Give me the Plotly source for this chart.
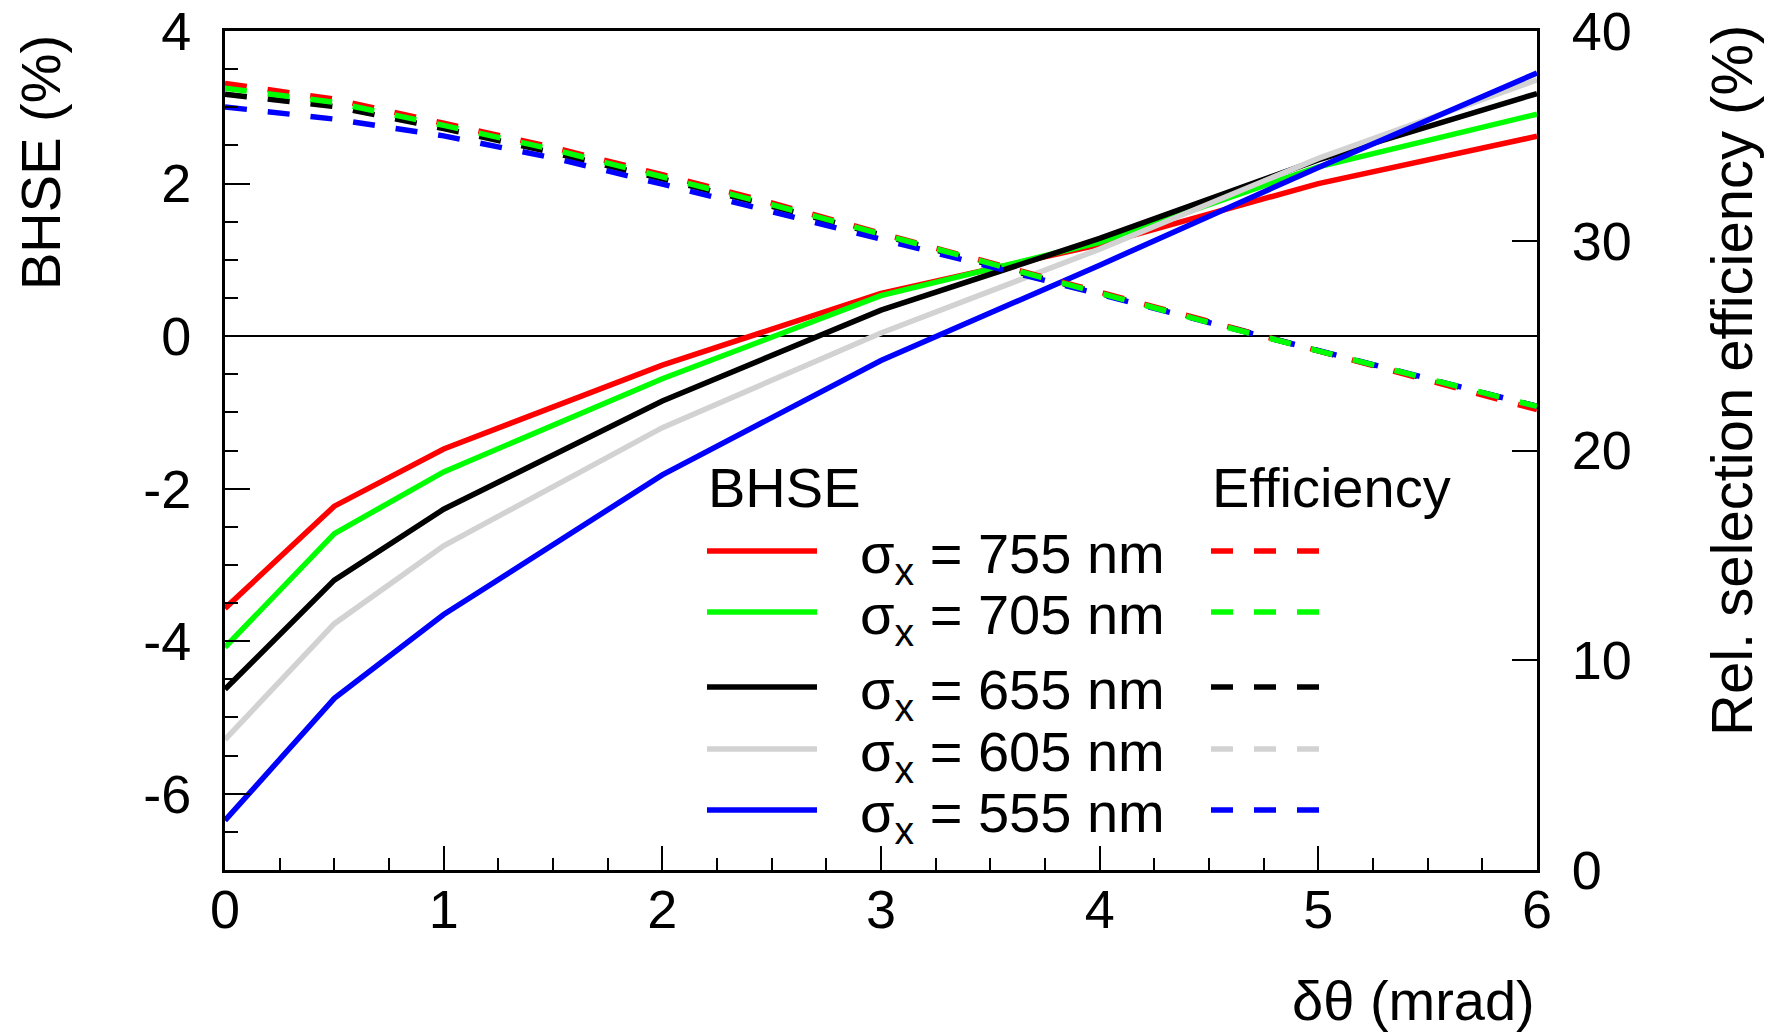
import plotly.graph_objects as go

# ---------------- data ----------------
sigma_labels = ["755", "705", "655", "605", "555"]
colors = ["#ff0000", "#00ff00", "#000000", "#d2d2d2", "#0000ff"]

x_bhse = [0, 0.5, 1, 2, 3, 4, 5, 6]
bhse_755 = [-3.57, -2.23, -1.48, -0.38, 0.56, 1.20, 2.00, 2.62]
bhse_705 = [-4.08, -2.59, -1.78, -0.56, 0.53, 1.23, 2.22, 2.91]
bhse_655 = [-4.63, -3.20, -2.27, -0.85, 0.34, 1.28, 2.31, 3.18]
bhse_605 = [-5.29, -3.77, -2.75, -1.20, 0.04, 1.14, 2.33, 3.36]
bhse_555 = [-6.35, -4.75, -3.65, -1.82, -0.32, 0.93, 2.21, 3.45]

x_eff = [0, 0.5, 1, 1.5, 2, 2.5, 3, 3.5, 4, 4.5, 5, 5.5, 6]
eff_755 = [37.50, 36.75, 35.60, 34.45, 33.15, 31.80, 30.35, 28.95, 27.50, 26.10, 24.70, 23.30, 21.95]
eff_705 = [37.27, 36.60, 35.50, 34.35, 33.05, 31.72, 30.32, 28.90, 27.50, 26.10, 24.75, 23.40, 22.10]
eff_655 = [36.98, 36.40, 35.35, 34.20, 32.95, 31.65, 30.28, 28.85, 27.50, 26.10, 24.75, 23.40, 22.10]
eff_605 = [36.98, 36.40, 35.35, 34.20, 32.95, 31.65, 30.28, 28.85, 27.50, 26.10, 24.75, 23.40, 22.10]
eff_555 = [36.38, 35.80, 35.00, 33.95, 32.70, 31.40, 30.10, 28.80, 27.45, 26.10, 24.75, 23.40, 22.10]

y_tickvals = [-6, -4, -2, 0, 2, 4]
y_ticktext = ["-6", "-4", "-2", "0", "2", "4"]

bhse_all = [bhse_755, bhse_705, bhse_655, bhse_605, bhse_555]
eff_all = [eff_755, eff_705, eff_655, eff_605, eff_555]

# ---------------- layout constants ----------------
W, H = 1776, 1032
L, R, T, B = 225, 1537, 31, 870
FONT = "Liberation Sans, Arial, Helvetica, sans-serif"
LW = 5.5
DASH = "22px,21px"

def px(xp):
    return (xp - L) / (R - L)

def py(yp):
    return (B - yp) / (B - T)

fig = go.Figure()

# BHSE solid lines (draw order: red, green, black, gray, blue)
for i in [0, 1, 2, 3, 4]:
    fig.add_trace(go.Scatter(x=x_bhse, y=bhse_all[i], mode="lines",
                             line=dict(color=colors[i], width=LW),
                             showlegend=False, yaxis="y", hoverinfo="skip"))

# Efficiency dashed lines on right axis
for i in [3, 2, 0, 4, 1]:
    fig.add_trace(go.Scatter(x=x_eff, y=eff_all[i], mode="lines",
                             line=dict(color=colors[i], width=LW, dash=DASH),
                             showlegend=False, yaxis="y2", hoverinfo="skip"))

tickfont = dict(family=FONT, size=54, color="black")

fig.update_layout(
    width=W, height=H,
    margin=dict(l=L, r=W - R, t=T, b=H - B, autoexpand=False),
    plot_bgcolor="white", paper_bgcolor="white",
    showlegend=False,
    xaxis=dict(range=[0, 6], dtick=1, tick0=0, showgrid=False, zeroline=False,
               automargin=False,
               showline=True, linecolor="black", linewidth=3, mirror=True,
               ticks="inside", ticklen=24, tickwidth=2, tickcolor="black",
               minor=dict(dtick=0.25, ticks="inside", ticklen=12, tickwidth=2,
                          tickcolor="black", showgrid=False),
               tickfont=tickfont, ticklabelstandoff=-10),
    yaxis=dict(range=[-7, 4], tickmode="array", tickvals=y_tickvals, ticktext=y_ticktext,
               showgrid=False, automargin=False,
               zeroline=True, zerolinecolor="black", zerolinewidth=1.6,
               showline=True, linecolor="black", linewidth=3, mirror=True,
               ticks="inside", ticklen=25, tickwidth=2, tickcolor="black",
               minor=dict(dtick=0.5, tick0=0, ticks="inside", ticklen=13, tickwidth=2,
                          tickcolor="black", showgrid=False),
               tickfont=tickfont, ticklabelstandoff=20),
    yaxis2=dict(range=[0, 40], dtick=10, tick0=0, overlaying="y", side="right",
                showgrid=False, zeroline=False, automargin=False,
                showline=True, linecolor="black", linewidth=3,
                ticks="inside", ticklen=25, tickwidth=2, tickcolor="black",
                tickfont=tickfont, ticklabelstandoff=21),
)

annotations = []
shapes = []
title_font = dict(family=FONT, size=56, color="black")

# Axis titles
annotations.append(dict(text="BHSE (%)", xref="paper", yref="paper",
                        x=px(40), y=py(163), xanchor="center", yanchor="middle",
                        textangle=-90, showarrow=False, font=title_font))
annotations.append(dict(text="Rel. selection efficiency (%)", xref="paper", yref="paper",
                        x=px(1731), y=py(381), xanchor="center", yanchor="middle",
                        textangle=-90, showarrow=False,
                        font=dict(family=FONT, size=58, color="black")))
annotations.append(dict(text="δθ (mrad)", xref="paper", yref="paper",
                        x=px(1537), y=py(1000), xanchor="right", yanchor="middle",
                        showarrow=False, font=title_font))

# Legend
annotations.append(dict(text="BHSE", xref="paper", yref="paper",
                        x=px(706), y=py(487), xanchor="left", yanchor="middle",
                        showarrow=False, font=title_font))
annotations.append(dict(text="Efficiency", xref="paper", yref="paper",
                        x=px(1210), y=py(487), xanchor="left", yanchor="middle",
                        showarrow=False, font=title_font))
row_y = [551, 612, 687, 749, 810]
for i, lab in enumerate(sigma_labels):
    yy = py(row_y[i])
    shapes.append(dict(type="line", xref="paper", yref="paper",
                       x0=px(707), x1=px(817), y0=yy, y1=yy,
                       line=dict(color=colors[i], width=LW)))
    shapes.append(dict(type="line", xref="paper", yref="paper",
                       x0=px(1211), x1=px(1321), y0=yy, y1=yy,
                       line=dict(color=colors[i], width=LW, dash=DASH)))
    annotations.append(dict(text="σ<sub>x</sub> = " + lab + " nm", xref="paper", yref="paper",
                            x=px(858), y=py(row_y[i] + 6), xanchor="left", yanchor="middle",
                            showarrow=False, font=title_font))

fig.update_layout(annotations=annotations, shapes=shapes)

fig.write_html("out.html")
